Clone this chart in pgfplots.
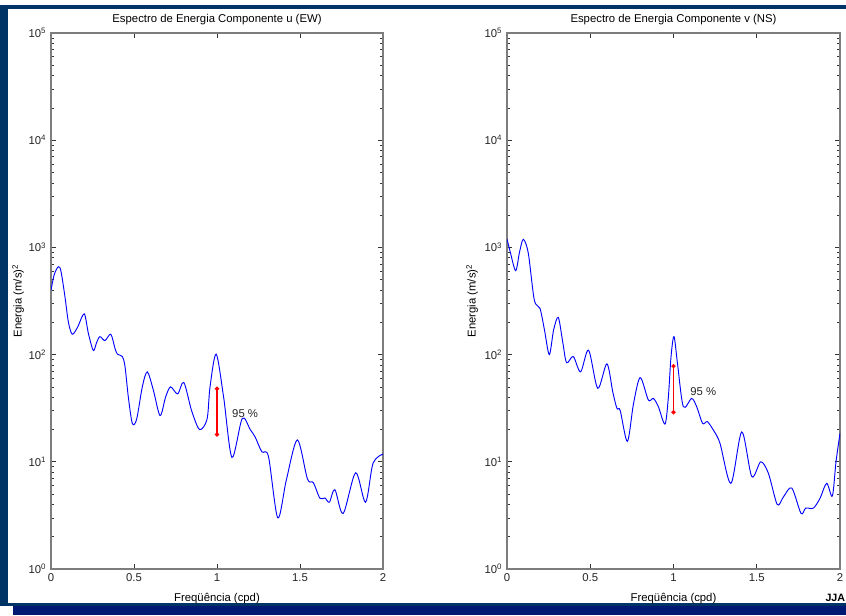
\documentclass[border=0pt]{standalone}
\usepackage{fontspec}
\setmainfont{Liberation Sans}
\usepackage{pgfplots}
\pgfplotsset{compat=1.18}

\definecolor{frameblue}{RGB}{0,51,102}
\definecolor{framenavy}{RGB}{0,25,115}
\definecolor{mblue}{RGB}{0,0,255}
\definecolor{mred}{RGB}{255,0,0}
\definecolor{maxis}{RGB}{125,125,125}

\newcommand\fs{\fontsize{8.5}{10}\selectfont}

\pgfplotsset{
  specax/.style={
    scale only axis, height=402pt,
    anchor=south west,
    xmin=0, xmax=2, ymin=1, ymax=1e5,
    xtick={0,0.5,1,1.5,2},
    xticklabels={0,0.5,1,1.5,2},
    ytick={1,10,100,1000,10000,100000},
    yticklabels={10\textsuperscript{0},10\textsuperscript{1},10\textsuperscript{2},10\textsuperscript{3},10\textsuperscript{4},10\textsuperscript{5}},
    minor ytick={2,3,4,5,6,7,8,9,20,30,40,50,60,70,80,90,200,300,400,500,600,700,800,900,2000,3000,4000,5000,6000,7000,8000,9000,20000,30000,40000,50000,60000,70000,80000,90000},
    tick align=inside,
    major tick length=3.5pt, minor tick length=2.2pt,
    axis line style={maxis, line width=0.9pt},
    tick style={black!80, line width=0.5pt},
    tick label style={font=\fs, black!85},
    xlabel={Freqüência (cpd)},
    ylabel={Energia (m/s)\textsuperscript{2}},
    xlabel style={font=\fs, at={(0.5,0)}, anchor=base, yshift=-24pt},
    title style={font=\fs, at={(0.5,1)}, anchor=base, yshift=1.5pt},
  },
  bluecurve/.style={draw=mblue, line width=0.7pt, smooth, tension=0.5},
  redbar/.style={draw=mred, color=mred, line width=0.9pt, mark=*, mark size=1.1pt, mark options={fill=mred, draw=mred}},
}

\begin{document}
\begin{tikzpicture}
\useasboundingbox (0,0) rectangle (634.5pt,461.25pt);
\fill[white] (0,0) rectangle (634.5pt,461.25pt);
% moldura
\fill[frameblue] (0,454.5pt) rectangle (634.5pt,457.5pt);
\fill[frameblue] (0,6.75pt) rectangle (6pt,457.5pt);
\fill[frameblue] (3.75pt,6.75pt) rectangle (634.5pt,9pt);
\fill[framenavy] (9.75pt,0) rectangle (634.5pt,6.75pt);

\begin{semilogyaxis}[specax, width=249pt, at={(38.25pt,34.5pt)},
    title={Espectro de Energia Componente u (EW)},
    ylabel style={font=\fs, at={(axis description cs:-0.099,0.5)}, anchor=center}]
\addplot[bluecurve] coordinates {
(0,400)(0.02,560)(0.044,660)(0.06,600)(0.084,347)(0.105,200)(0.128,155)(0.16,180)
(0.20,240)(0.225,158)(0.255,109)(0.275,130)(0.295,147)(0.325,135)(0.36,155)(0.385,115)
(0.40,101)(0.43,96)(0.446,77)(0.466,40)(0.49,22.8)(0.516,25)(0.55,50)(0.58,69)
(0.616,47)(0.657,27)(0.69,40)(0.72,50)(0.763,43)(0.80,55)(0.847,30)(0.895,20)
(0.94,25)(0.958,50)(0.995,101)(1.04,40)(1.09,11)(1.152,25.4)(1.2,20)(1.23,17)
(1.27,12.4)(1.31,11.2)(1.366,3.0)(1.418,6.8)(1.484,16)(1.545,6.9)(1.58,6.4)(1.62,4.57)
(1.65,4.6)(1.677,4.2)(1.71,5.5)(1.76,3.3)(1.835,7.9)(1.895,4.2)(1.94,9.7)(2.0,11.8)};
\addplot[redbar] coordinates {(1,48)(1,18)};
\node[anchor=west, font=\fs, black!85, inner sep=0pt] at (axis cs:1.09,27.9) {95 \%};
\end{semilogyaxis}

\begin{semilogyaxis}[specax, width=249.75pt, at={(380.25pt,34.5pt)},
    title={Espectro de Energia Componente v (NS)},
    ylabel style={font=\fs, at={(axis description cs:-0.105,0.5)}, anchor=center}]
\addplot[bluecurve] coordinates {
(0,1200)(0.02,900)(0.052,606)(0.075,900)(0.098,1190)(0.128,880)(0.164,323)(0.198,270)
(0.225,170)(0.254,100)(0.28,170)(0.308,222)(0.335,130)(0.358,84)(0.398,96)(0.442,69)
(0.49,110)(0.545,48.5)(0.60,82)(0.635,45)(0.66,31.6)(0.68,30)(0.723,15.5)(0.76,35)
(0.80,61)(0.849,37.7)(0.879,39)(0.909,32.7)(0.949,22.5)(0.969,40)(0.985,95)(1.003,147)
(1.025,80)(1.059,32.7)(1.109,39)(1.139,32.7)(1.175,22.8)(1.203,23.7)(1.239,19.8)(1.279,14.9)
(1.345,6.3)(1.41,19)(1.47,7.3)(1.524,10)(1.57,7.8)(1.623,4.0)(1.66,4.7)(1.71,5.7)
(1.766,3.3)(1.794,3.7)(1.84,3.7)(1.88,4.57)(1.92,6.3)(1.954,4.8)(1.976,10)(2.0,18.4)};
\addplot[redbar] coordinates {(1,78)(1,29)};
\node[anchor=west, font=\fs, black!85, inner sep=0pt] at (axis cs:1.099,44.8) {95 \%};
\end{semilogyaxis}

\node[anchor=east, font=\bfseries\fontsize{8}{9}\selectfont, inner sep=0pt] at (634pt,12.75pt) {JJA};
\end{tikzpicture}
\end{document}
